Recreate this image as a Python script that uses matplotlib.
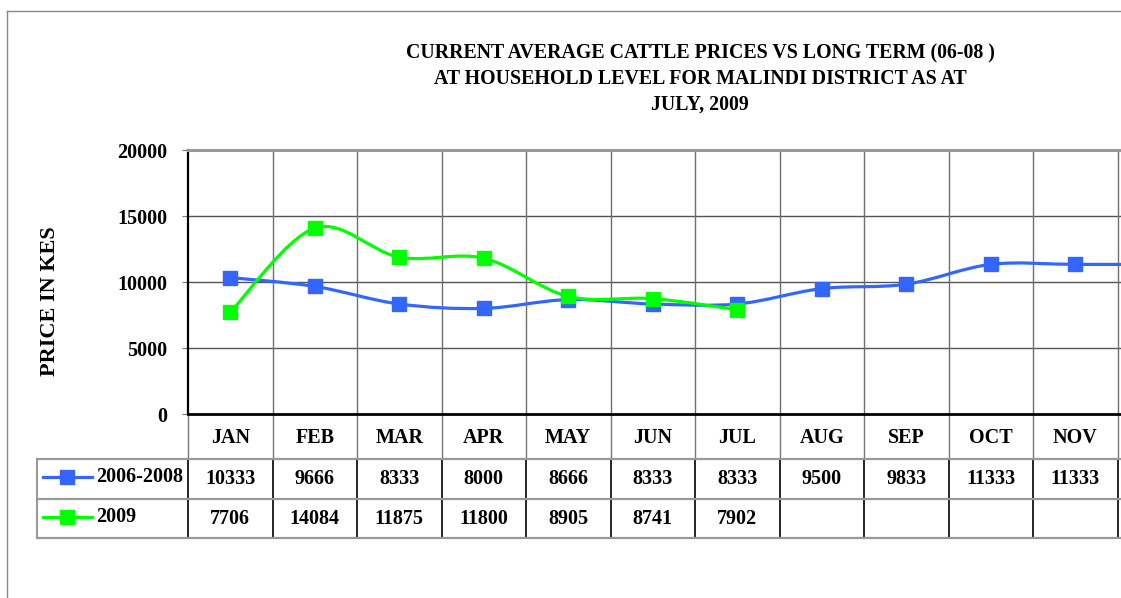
import numpy as np
import matplotlib.pyplot as plt
from matplotlib.path import Path
from matplotlib.patches import PathPatch
from matplotlib.lines import Line2D
from matplotlib.transforms import blended_transform_factory

plt.rcParams['font.family'] = ['Liberation Serif', 'DejaVu Serif']
plt.rcParams['font.weight'] = 'bold'

# data; the DEC column is cut off at the right edge,
# only the line running into it is visible (value estimated)
months = ['JAN', 'FEB', 'MAR', 'APR', 'MAY', 'JUN', 'JUL', 'AUG', 'SEP', 'OCT', 'NOV']
long_term = [10333, 9666, 8333, 8000, 8666, 8333, 8333, 9500, 9833, 11333, 11333, 11333]
year_2009 = [7706, 14084, 11875, 11800, 8905, 8741, 7902]
series_names = ['2006-2008', '2009']
series_colors = ['#3366FF', '#00FF00']

title_lines = ['CURRENT AVERAGE CATTLE PRICES VS LONG TERM (06-08 )',
               'AT HOUSEHOLD LEVEL FOR MALINDI DISTRICT AS AT',
               'JULY, 2009']

W, H = 1121, 598
fig = plt.figure(figsize=(W / 100, H / 100), dpi=100)

# plot area in pixels: left 188, top 150, bottom 414, 84.5 px per month
col_w = 84.5
ax = fig.add_axes([188 / W, (H - 414) / H, 12 * col_w / W, 264 / H])
ax.set_xlim(0, 12)
ax.set_ylim(0, 20000)


def smooth_path(xs, ys):
    # excel style smoothed line (bezier through the points)
    pts = np.column_stack([xs, ys]).astype(float)
    n = len(pts)
    verts = [pts[0]]
    codes = [Path.MOVETO]
    for i in range(n - 1):
        p0 = pts[i - 1] if i > 0 else pts[i]
        p1 = pts[i]
        p2 = pts[i + 1]
        p3 = pts[i + 2] if i + 2 < n else pts[i + 1]
        verts += [p1 + (p2 - p0) / 6, p2 - (p3 - p1) / 6, p2]
        codes += [Path.CURVE4] * 3
    return Path(verts, codes)


# grid
for yv in [5000, 10000, 15000]:
    ax.axhline(yv, color='#555555', lw=1, zorder=1)
for xv in range(1, 12):
    ax.axvline(xv, color='#6e6e6e', lw=1, zorder=1)

for i, vals in enumerate([long_term, year_2009]):
    xs = np.arange(len(vals)) + 0.5
    ax.add_patch(PathPatch(smooth_path(xs, vals), fill=False,
                           edgecolor=series_colors[i], lw=2.3, zorder=3 + i))
    ax.plot(xs, vals, ls='none', marker='s', ms=10,
            color=series_colors[i], zorder=3 + i)

ax.spines['left'].set_color('black')
ax.spines['left'].set_linewidth(1.6)
ax.spines['bottom'].set_color('black')
ax.spines['bottom'].set_linewidth(2)
ax.spines['top'].set_color('#999999')
ax.spines['top'].set_linewidth(2.2)
ax.spines['right'].set_color('#999999')

ax.set_xticks([])
ax.set_yticks(range(0, 20001, 5000))
ax.tick_params(axis='y', direction='out', length=4, color='#777777',
               pad=11, labelsize=14.5)

# data table under the plot
tr = blended_transform_factory(ax.transData, ax.transAxes)


def yf(p):
    return (414 - p) / 264


leg_left = (37 - 188) / col_w
for xv in range(13):
    ax.add_line(Line2D([xv, xv], [yf(414), yf(459)], color='#777777', lw=1,
                       transform=tr, clip_on=False))
    ax.add_line(Line2D([xv, xv], [yf(459), yf(538)], color='black', lw=1.2,
                       transform=tr, clip_on=False))
ax.add_line(Line2D([leg_left, leg_left], [yf(459), yf(538)], color='#999999',
                   lw=1.5, transform=tr, clip_on=False))
for yp in [459, 499, 538]:
    ax.add_line(Line2D([leg_left, 12], [yf(yp), yf(yp)], color='#999999',
                       lw=1.6, transform=tr, clip_on=False))

for i, m in enumerate(months):
    ax.text(i + 0.5, yf(438), m, transform=tr, ha='center', va='center',
            fontsize=14.5, fontweight='bold', clip_on=False)

row_y = [479, 519]
for r, vals in enumerate([long_term, year_2009]):
    for i, v in enumerate(vals[:len(months)]):
        ax.text(i + 0.5, yf(row_y[r]), str(v), transform=tr, ha='center',
                va='center', fontsize=14.5, fontweight='bold', clip_on=False)
    # legend key in the first column
    ax.add_line(Line2D([(43 - 188) / col_w, (92 - 188) / col_w],
                       [yf(row_y[r] - 2)] * 2, color=series_colors[r], lw=2.3,
                       transform=tr, clip_on=False))
    ax.add_line(Line2D([(67 - 188) / col_w], [yf(row_y[r] - 2)], ls='none',
                       marker='s', ms=10, color=series_colors[r],
                       transform=tr, clip_on=False))
    ax.text((96 - 188) / col_w, yf(row_y[r] - 2), series_names[r],
            transform=tr, ha='left', va='center', fontsize=14.5,
            fontweight='bold', clip_on=False)

# titles
for k, line in enumerate(title_lines):
    fig.text(700 / W, 1 - (53 + 26 * k) / H, line, ha='center', va='center',
             fontsize=14.3, fontweight='bold')

fig.text(50 / W, 1 - 301 / H, 'PRICE IN KES', rotation=90, ha='center',
         va='center', fontsize=16, fontweight='bold')

# outer chart border (rest is outside the picture)
fig.add_artist(Line2D([7 / W, 7 / W], [0, 1 - 11 / H], color='#888888', lw=1))
fig.add_artist(Line2D([7 / W, 1], [1 - 11 / H, 1 - 11 / H], color='#888888', lw=1))

fig.savefig('out.png', dpi=100)
